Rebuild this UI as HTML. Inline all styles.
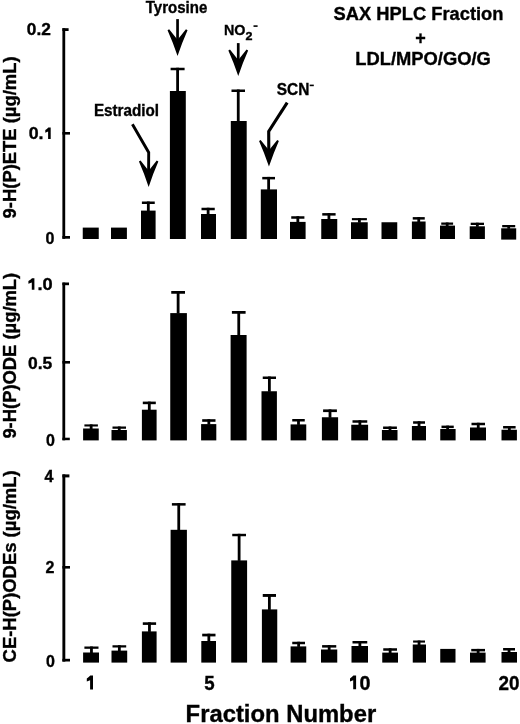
<!DOCTYPE html>
<html><head><meta charset="utf-8"><style>
html,body{margin:0;padding:0;background:#fff;}
svg{display:block;}
text{font-family:"Liberation Sans",sans-serif;font-weight:bold;fill:#000;}
</style></head><body>
<svg width="520" height="724" viewBox="0 0 520 724">
<defs><filter id="b" x="0" y="0" width="520" height="724" filterUnits="userSpaceOnUse"><feGaussianBlur stdDeviation="0.45"/></filter></defs>
<rect width="520" height="724" fill="#fff"/>
<g filter="url(#b)">
<g fill="#000">
<rect x="62.4" y="28.2" width="2.8" height="210.6"/>
<rect x="62.4" y="28.2" width="6.2" height="2.8"/>
<rect x="62.4" y="132" width="7.6" height="2.6"/>
<rect x="62.4" y="236" width="7.6" height="2.7"/>
<rect x="62.4" y="282.6" width="2.8" height="157.7"/>
<rect x="62.4" y="282.5" width="6.6" height="2.7"/>
<rect x="62.4" y="361" width="7.6" height="2.6"/>
<rect x="62.4" y="437.7" width="7.4" height="2.5"/>
<rect x="62.4" y="474.4" width="2.9" height="187.2"/>
<rect x="62.4" y="474.4" width="7" height="3"/>
<rect x="62.4" y="566" width="7.6" height="2.6"/>
<rect x="62.4" y="658.8" width="7.6" height="2.7"/>
<rect x="82.75" y="227.6" width="16" height="11.4"/>
<rect x="111" y="227.6" width="15.9" height="11.4"/>
<rect x="141" y="210.6" width="14.6" height="28.4"/>
<rect x="141.9" y="201.5" width="12.85" height="2.5"/>
<rect x="146.92" y="201.5" width="2.8" height="9.6"/>
<rect x="169.9" y="91" width="15.9" height="148"/>
<rect x="170.6" y="67.75" width="14" height="2.5"/>
<rect x="176.2" y="67.75" width="2.8" height="23.75"/>
<rect x="201" y="214" width="15" height="25"/>
<rect x="201.5" y="207.75" width="13.25" height="2.5"/>
<rect x="206.72" y="207.75" width="2.8" height="6.75"/>
<rect x="230.8" y="121" width="15.9" height="118"/>
<rect x="231.5" y="89.5" width="13.5" height="2.5"/>
<rect x="236.85" y="89.5" width="2.8" height="32"/>
<rect x="260.8" y="189.4" width="16.2" height="49.6"/>
<rect x="262.25" y="176.9" width="12.75" height="2.5"/>
<rect x="267.23" y="176.9" width="2.8" height="13"/>
<rect x="290" y="221.9" width="15.6" height="17.1"/>
<rect x="291.25" y="216.25" width="13.15" height="2.5"/>
<rect x="296.43" y="216.25" width="2.8" height="6.15"/>
<rect x="321.25" y="219" width="16" height="20"/>
<rect x="322.25" y="213.1" width="13.35" height="2.5"/>
<rect x="327.53" y="213.1" width="2.8" height="6.4"/>
<rect x="351" y="222.25" width="16.75" height="16.75"/>
<rect x="351.9" y="218.1" width="15" height="2.15"/>
<rect x="358" y="218.1" width="2.8" height="4.65"/>
<rect x="381.5" y="222.25" width="15.75" height="16.75"/>
<rect x="411.9" y="221.5" width="13.7" height="17.5"/>
<rect x="412.75" y="217.1" width="12" height="2.5"/>
<rect x="417.35" y="217.1" width="2.8" height="4.9"/>
<rect x="440" y="225.6" width="15" height="13.4"/>
<rect x="441.25" y="222.5" width="11.85" height="2.25"/>
<rect x="445.78" y="222.5" width="2.8" height="3.6"/>
<rect x="469.7" y="226.3" width="15.2" height="12.7"/>
<rect x="470.7" y="222.7" width="13.3" height="2.3"/>
<rect x="475.95" y="222.7" width="2.8" height="4.1"/>
<rect x="501.2" y="228.3" width="15" height="11.3"/>
<rect x="502.2" y="225" width="13" height="2.3"/>
<rect x="507.3" y="225" width="2.8" height="3.8"/>
<rect x="83.1" y="428.5" width="15.65" height="11.9"/>
<rect x="84.4" y="424.4" width="13.5" height="2.1"/>
<rect x="89.75" y="424.4" width="2.8" height="4.6"/>
<rect x="111.5" y="430" width="15.4" height="10.4"/>
<rect x="112.5" y="426.5" width="13.5" height="2.25"/>
<rect x="117.85" y="426.5" width="2.8" height="4"/>
<rect x="141.9" y="409.7" width="14.7" height="30.7"/>
<rect x="142.8" y="401.6" width="13" height="2.6"/>
<rect x="147.9" y="401.6" width="2.8" height="8.6"/>
<rect x="170.25" y="313.1" width="16.65" height="127.3"/>
<rect x="171.25" y="291" width="13.75" height="2.75"/>
<rect x="176.72" y="291" width="2.8" height="22.6"/>
<rect x="201.1" y="424.1" width="15.2" height="16.3"/>
<rect x="202.2" y="419.2" width="13.3" height="2.6"/>
<rect x="207.45" y="419.2" width="2.8" height="5.4"/>
<rect x="230.6" y="335" width="16" height="105.4"/>
<rect x="231.9" y="311" width="13.7" height="2.75"/>
<rect x="237.35" y="311" width="2.8" height="24.5"/>
<rect x="261.5" y="391.25" width="15.4" height="49.15"/>
<rect x="262.75" y="376.5" width="13.25" height="2.5"/>
<rect x="267.98" y="376.5" width="2.8" height="15.25"/>
<rect x="290.6" y="424.4" width="15.65" height="16"/>
<rect x="292.25" y="419" width="12.5" height="2.5"/>
<rect x="297.1" y="419" width="2.8" height="5.9"/>
<rect x="321.9" y="417.25" width="16.2" height="23.15"/>
<rect x="323.1" y="409.4" width="13.8" height="2.7"/>
<rect x="328.6" y="409.4" width="2.8" height="8.35"/>
<rect x="351.25" y="424.75" width="16.85" height="15.65"/>
<rect x="352.5" y="420.25" width="14.75" height="2.5"/>
<rect x="358.48" y="420.25" width="2.8" height="5"/>
<rect x="381.9" y="430" width="15.6" height="10.4"/>
<rect x="383.1" y="426.5" width="13.8" height="2.5"/>
<rect x="388.6" y="426.5" width="2.8" height="4"/>
<rect x="411.9" y="426" width="14.1" height="14.4"/>
<rect x="413.1" y="421.25" width="11.9" height="2.5"/>
<rect x="417.65" y="421.25" width="2.8" height="5.25"/>
<rect x="440.25" y="429" width="15.35" height="11.4"/>
<rect x="441.5" y="425.6" width="12.25" height="2.5"/>
<rect x="446.23" y="425.6" width="2.8" height="3.9"/>
<rect x="470" y="427.5" width="16" height="12.9"/>
<rect x="471.5" y="422.75" width="13.5" height="2.5"/>
<rect x="476.85" y="422.75" width="2.8" height="5.25"/>
<rect x="501.5" y="429.75" width="15.4" height="10.65"/>
<rect x="503.1" y="426" width="12.5" height="2.5"/>
<rect x="507.95" y="426" width="2.8" height="4.25"/>
<rect x="83.1" y="652.5" width="15.9" height="10.1"/>
<rect x="84.4" y="646.5" width="14.1" height="2.3"/>
<rect x="90.05" y="646.5" width="2.8" height="6.5"/>
<rect x="111.5" y="650.6" width="15.7" height="12"/>
<rect x="112.5" y="645.25" width="13.7" height="2.25"/>
<rect x="117.95" y="645.25" width="2.8" height="5.85"/>
<rect x="141.9" y="631.4" width="14.7" height="31.2"/>
<rect x="142.8" y="622.3" width="13.3" height="2.6"/>
<rect x="148.05" y="622.3" width="2.8" height="9.6"/>
<rect x="170.6" y="529.8" width="16.3" height="132.8"/>
<rect x="171.9" y="503.1" width="13.7" height="2.5"/>
<rect x="177.35" y="503.1" width="2.8" height="27.2"/>
<rect x="201.3" y="641" width="14.7" height="21.6"/>
<rect x="202.2" y="633.7" width="13.3" height="2.7"/>
<rect x="207.45" y="633.7" width="2.8" height="7.8"/>
<rect x="231.25" y="560.4" width="15.85" height="102.2"/>
<rect x="232.25" y="533.8" width="13.75" height="2.45"/>
<rect x="237.72" y="533.8" width="2.8" height="27.1"/>
<rect x="261.9" y="609.4" width="15.35" height="53.2"/>
<rect x="262.75" y="594" width="13.25" height="2.9"/>
<rect x="267.98" y="594" width="2.8" height="15.9"/>
<rect x="290.6" y="646.4" width="15.65" height="16.2"/>
<rect x="292.25" y="641.75" width="12.75" height="2.5"/>
<rect x="297.23" y="641.75" width="2.8" height="5.15"/>
<rect x="321" y="649.5" width="16.25" height="13.1"/>
<rect x="322.1" y="645.1" width="14.15" height="2.5"/>
<rect x="327.78" y="645.1" width="2.8" height="4.9"/>
<rect x="351.5" y="646" width="16.5" height="16.6"/>
<rect x="352.5" y="641" width="14.75" height="2.5"/>
<rect x="358.48" y="641" width="2.8" height="5.5"/>
<rect x="382.25" y="652.6" width="15.75" height="10"/>
<rect x="383.25" y="648.25" width="13.75" height="2.5"/>
<rect x="388.73" y="648.25" width="2.8" height="4.85"/>
<rect x="412.75" y="644.5" width="13.25" height="18.1"/>
<rect x="413.1" y="640.5" width="11.9" height="2.1"/>
<rect x="417.65" y="640.5" width="2.8" height="4.5"/>
<rect x="440.25" y="648.9" width="15.25" height="13.7"/>
<rect x="470" y="652.6" width="15.6" height="10"/>
<rect x="471.25" y="648.9" width="13.75" height="2.5"/>
<rect x="476.73" y="648.9" width="2.8" height="4.2"/>
<rect x="501.5" y="652" width="15.5" height="10.6"/>
<rect x="503.1" y="648" width="11.9" height="2.5"/>
<rect x="507.65" y="648" width="2.8" height="4.5"/>
<rect x="176.2" y="19.1" width="2.7" height="25"/>
<path d="M167.55,30.2 L169.15,29.2 L177.55,39.8 L185.95,29.2 L187.55,30.2 Q182.25,42.07 177.55,55.9 Q172.85,42.07 167.55,30.2 Z"/>
<rect x="236.9" y="43.1" width="2.7" height="22"/>
<path d="M228.35,50.4 L229.95,49.4 L238.25,60 L246.55,49.4 L248.15,50.4 Q242.9,62.17 238.25,75.9 Q233.6,62.17 228.35,50.4 Z"/>
<path d="M132.4,124.2 L148.7,152.4 L148.6,172" fill="none" stroke="#000" stroke-width="2.9" stroke-linejoin="miter"/>
<path d="M138.95,161.6 L140.55,160.6 L148.65,170.8 L156.75,160.6 L158.35,161.6 Q153.21,173.28 148.65,186.9 Q144.09,173.28 138.95,161.6 Z"/>
<path d="M287.2,102.6 L268.7,131.4 L268.8,152" fill="none" stroke="#000" stroke-width="3.1" stroke-linejoin="miter"/>
<path d="M259.05,141 L260.65,140 L268.95,150.2 L277.25,140 L278.85,141 Q273.6,152.82 268.95,166.6 Q264.3,152.82 259.05,141 Z"/>
</g>
<g stroke="#000" stroke-width="0.35">
<text x="333.5" y="20.2" font-size="18" textLength="170" lengthAdjust="spacingAndGlyphs">SAX HPLC Fraction</text>
<text x="420.6" y="43.6" font-size="18" text-anchor="middle">+</text>
<text x="355.3" y="65.4" font-size="18" textLength="135.5" lengthAdjust="spacingAndGlyphs">LDL/MPO/GO/G</text>
<text x="145.8" y="13.0" font-size="15.8" textLength="61.5" lengthAdjust="spacingAndGlyphs">Tyrosine</text>
<text x="223.9" y="35.4" font-size="15.5" textLength="21.5" lengthAdjust="spacingAndGlyphs">NO</text>
<text x="245.4" y="40.2" font-size="11.5" textLength="7" lengthAdjust="spacingAndGlyphs">2</text>
<rect x="253.5" y="25.3" width="4.1" height="1.6" stroke="none"/>
<text x="93.9" y="115.7" font-size="15.8" textLength="65.2" lengthAdjust="spacingAndGlyphs">Estradiol</text>
<text x="276.8" y="94.7" font-size="15.8" textLength="32.6" lengthAdjust="spacingAndGlyphs">SCN</text>
<rect x="309.7" y="84.6" width="4.1" height="1.6" stroke="none"/>
<!-- y tick labels -->
<g font-size="16" text-anchor="end">
<text x="50.8" y="35" textLength="24" lengthAdjust="spacingAndGlyphs">0.2</text>
<text x="28.7" y="139.3" text-anchor="start" textLength="14.8" lengthAdjust="spacingAndGlyphs">0.</text>
<text x="54.4" y="243.6">0</text>
<text x="52.7" y="290.2" textLength="15.2" lengthAdjust="spacingAndGlyphs">.0</text>
<text x="52.3" y="368.8" textLength="24.2" lengthAdjust="spacingAndGlyphs">0.5</text>
<text x="54.9" y="445.7">0</text>
<text x="53.4" y="482.1">4</text>
<text x="54.5" y="573.1">2</text>
<text x="54.9" y="666.6">0</text>
</g>
<g font-size="19.5" text-anchor="middle">
<text x="209.5" y="689.5" textLength="10.4" lengthAdjust="spacingAndGlyphs">5</text>
<text x="370.5" y="689.5" text-anchor="end" textLength="11" lengthAdjust="spacingAndGlyphs">0</text>
<text x="509" y="689.5" textLength="21" lengthAdjust="spacingAndGlyphs">20</text>
</g>
<path stroke="none" d="M34.4,278.3 L34.4,289.7 L31.8,289.7 L31.8,282.5 L28.4,283.7 L28.4,281 Q30.6,279.9 32,278.3 Z"/>
<path stroke="none" d="M50.7,127.4 L50.7,139 L48.1,139 L48.1,131.5 L45.3,132.7 L45.3,130 Q46.9,129 48.3,127.4 Z"/>
<path stroke="none" d="M93,675.5 L93,689.4 L90.1,689.4 L90.1,680.2 L86.8,681.6 L86.8,678.6 Q88.9,677.1 90.3,675.5 Z"/>
<path stroke="none" d="M356.1,675.5 L356.1,689.3 L353.2,689.3 L353.2,680.2 L350,681.6 L350,678.6 Q352,677.1 353.4,675.5 Z"/>
<text x="185.6" y="722.3" font-size="23.8" textLength="190.6" lengthAdjust="spacingAndGlyphs">Fraction Number</text>
<text transform="translate(15.6,218.4) rotate(-90)" font-size="18" textLength="162" lengthAdjust="spacingAndGlyphs">9-H(P)ETE (µg/mL)</text>
<text transform="translate(15.6,438.6) rotate(-90)" font-size="18" textLength="165.8" lengthAdjust="spacingAndGlyphs">9-H(P)ODE (µg/mL)</text>
<text transform="translate(15.6,662.4) rotate(-90)" font-size="18" textLength="192" lengthAdjust="spacingAndGlyphs">CE-H(P)ODEs (µg/mL)</text>
</g>
</g>
</svg>
</body></html>
